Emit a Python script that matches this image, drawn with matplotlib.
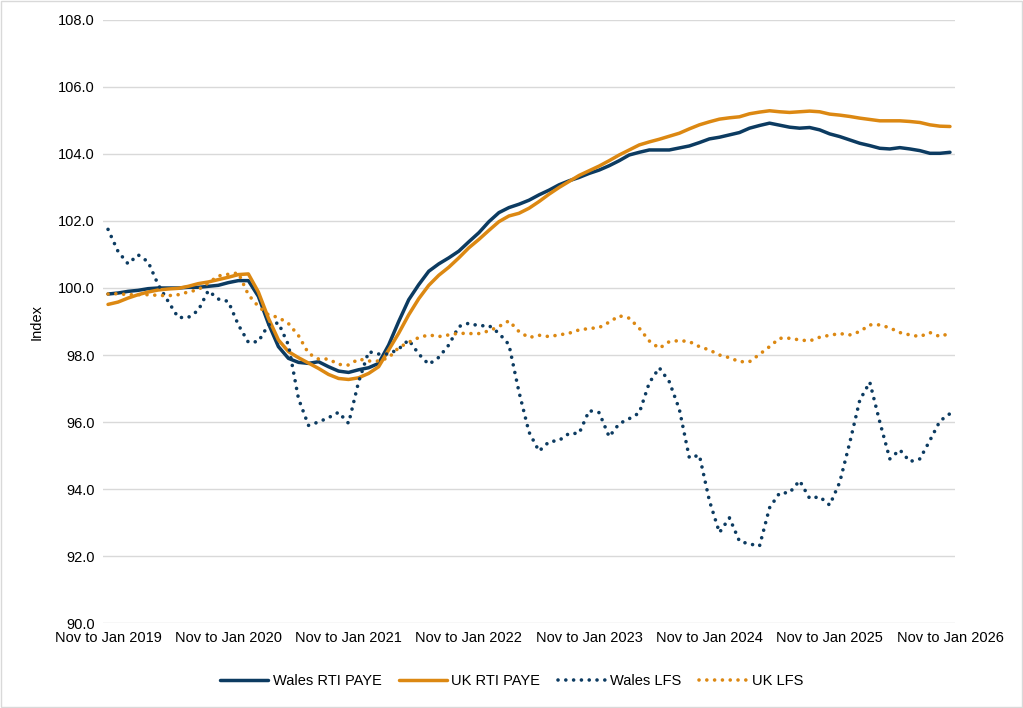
import numpy as np
import matplotlib
matplotlib.use("Agg")
import matplotlib.pyplot as plt
from matplotlib.patches import Rectangle

# rolling quarters Nov-Jan 2019 .. Nov-Jan 2026, monthly steps
tick_labels = ["Nov to Jan 2019", "Nov to Jan 2020", "Nov to Jan 2021", "Nov to Jan 2022",
               "Nov to Jan 2023", "Nov to Jan 2024", "Nov to Jan 2025", "Nov to Jan 2026"]

wales_rti = [99.82, 99.85, 99.90, 99.93, 99.98, 100.00, 100.00, 100.00, 100.02, 100.02,
             100.05, 100.08, 100.16, 100.22, 100.22, 99.75, 98.94, 98.25, 97.90, 97.78,
             97.75, 97.80, 97.65, 97.52, 97.48, 97.56, 97.62, 97.75, 98.30, 99.00,
             99.65, 100.10, 100.50, 100.72, 100.90, 101.10, 101.38, 101.65, 101.98, 102.25,
             102.40, 102.50, 102.62, 102.78, 102.92, 103.08, 103.20, 103.30, 103.42, 103.52,
             103.65, 103.80, 103.97, 104.05, 104.12, 104.12, 104.12, 104.18, 104.24, 104.34,
             104.45, 104.50, 104.57, 104.64, 104.77, 104.85, 104.92, 104.86, 104.80, 104.77,
             104.79, 104.72, 104.60, 104.52, 104.42, 104.32, 104.25, 104.17, 104.15, 104.19,
             104.15, 104.10, 104.02, 104.02, 104.05]

uk_rti = [99.51, 99.58, 99.70, 99.80, 99.88, 99.94, 99.97, 99.99, 100.05, 100.13,
          100.18, 100.25, 100.32, 100.40, 100.42, 99.88, 99.10, 98.45, 98.10, 97.92,
          97.76, 97.60, 97.42, 97.30, 97.27, 97.32, 97.45, 97.65, 98.15, 98.65,
          99.20, 99.68, 100.08, 100.38, 100.62, 100.90, 101.20, 101.45, 101.72, 101.98,
          102.15, 102.23, 102.38, 102.58, 102.80, 103.00, 103.18, 103.36, 103.50, 103.64,
          103.80, 103.97, 104.12, 104.27, 104.36, 104.44, 104.53, 104.62, 104.75, 104.87,
          104.96, 105.04, 105.08, 105.11, 105.20, 105.25, 105.29, 105.26, 105.24, 105.26,
          105.28, 105.26, 105.19, 105.16, 105.12, 105.07, 105.03, 104.99, 104.99, 104.99,
          104.97, 104.94, 104.87, 104.83, 104.82]

wales_lfs = [101.75, 101.09, 100.72, 100.99, 100.78, 100.10, 99.60, 99.12, 99.12, 99.33,
             99.92, 99.67, 99.60, 98.90, 98.38, 98.40, 98.90, 98.96, 98.30, 96.70,
             95.90, 96.00, 96.13, 96.29, 95.96, 97.20, 98.10, 98.03, 98.03, 98.18,
             98.45, 98.03, 97.72, 97.93, 98.30, 98.85, 98.95, 98.87, 98.88, 98.65,
             98.31, 96.90, 95.70, 95.13, 95.41, 95.45, 95.66, 95.66, 96.34, 96.28,
             95.56, 95.95, 96.10, 96.27, 97.17, 97.62, 97.20, 96.38, 94.93, 95.01,
             93.65, 92.70, 93.14, 92.44, 92.36, 92.30, 93.44, 93.88, 93.89, 94.25,
             93.72, 93.77, 93.52, 94.20, 95.38, 96.65, 97.19, 96.00, 94.90, 95.17,
             94.82, 94.90, 95.45, 96.03, 96.25]

uk_lfs = [99.82, 99.83, 99.80, 99.80, 99.80, 99.78, 99.77, 99.80, 99.88, 99.95,
          100.15, 100.36, 100.41, 100.45, 99.80, 99.45, 99.20, 99.12, 98.94, 98.58,
          98.05, 97.88, 97.88, 97.72, 97.70, 97.88, 97.82, 97.82, 97.92, 98.22,
          98.38, 98.52, 98.60, 98.55, 98.60, 98.65, 98.64, 98.64, 98.72, 98.85,
          99.02, 98.70, 98.52, 98.59, 98.55, 98.60, 98.65, 98.75, 98.79, 98.82,
          98.98, 99.17, 99.10, 98.80, 98.42, 98.20, 98.40, 98.43, 98.40, 98.25,
          98.15, 98.00, 97.92, 97.80, 97.80, 98.02, 98.25, 98.50, 98.50, 98.45,
          98.42, 98.53, 98.59, 98.64, 98.60, 98.70, 98.90, 98.90, 98.81, 98.67,
          98.60, 98.55, 98.67, 98.55, 98.65]

NAVY = "#0c3b61"
ORANGE = "#dc8812"

plt.rcParams['font.family'] = ['Liberation Sans', 'DejaVu Sans']

fig = plt.figure(figsize=(10.23, 7.08), dpi=100)
ax = fig.add_axes([0.1007, 0.12, 0.8328, 0.8518])

x = np.arange(len(wales_rti))
dots = (0, (0.01, 2.15))
ax.plot(x, wales_rti, color=NAVY, lw=2.5, label="Wales RTI PAYE", solid_capstyle='round')
ax.plot(x, uk_rti, color=ORANGE, lw=2.5, label="UK RTI PAYE", solid_capstyle='round')
ax.plot(x, wales_lfs, color=NAVY, lw=2.6, ls=dots, dash_capstyle='round', label="Wales LFS")
ax.plot(x, uk_lfs, color=ORANGE, lw=2.6, ls=dots, dash_capstyle='round', label="UK LFS")

ax.set_xlim(-0.5, len(x) - 0.5)
ax.set_ylim(90, 108)
ax.set_yticks(np.arange(90, 108.1, 2))
ax.set_yticklabels([f"{v:.1f}" for v in np.arange(90, 108.1, 2)])
ax.set_xticks(np.arange(0, len(x), 12))
ax.set_xticklabels(tick_labels)
ax.tick_params(length=0, labelsize=10.5, colors='#000000', pad=6)
ax.grid(axis='y', color='#d9d9d9', lw=1)
ax.set_axisbelow(True)
for s in ax.spines.values():
    s.set_visible(False)
ax.set_ylabel("Index", fontsize=10.5, labelpad=10)

fig.legend(loc='center', bbox_to_anchor=(0.5, 0.038), ncol=4, frameon=False,
           fontsize=10.5, handlelength=3.3, columnspacing=1.2, handletextpad=0.3)

fig.patches.append(Rectangle((0.001, 0.001), 0.998, 0.998, transform=fig.transFigure,
                             fill=False, edgecolor='#d9d9d9', lw=1))

fig.savefig("out.png", dpi=100)
